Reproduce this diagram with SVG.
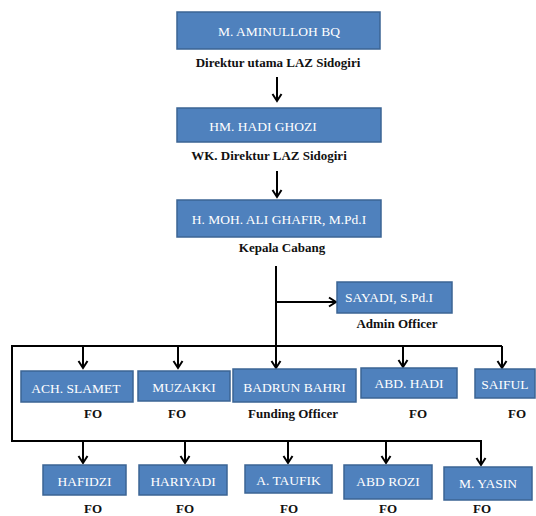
<svg xmlns="http://www.w3.org/2000/svg" width="536" height="516" viewBox="0 0 536 516">
<defs>
<marker id="arr" viewBox="0 0 12 12" refX="10" refY="6" markerWidth="12" markerHeight="12" markerUnits="userSpaceOnUse" orient="auto">
<path d="M3,1.5 L10,6 L3,10.5" fill="none" stroke="#000" stroke-width="2"/>
</marker>
</defs>
<style>
.box{fill:#4F81BD;stroke:#3B6494;stroke-width:1.5}
.bt{font-family:'Liberation Serif','Tinos','Times New Roman','Noto Serif','DejaVu Serif',serif;font-size:13.5px;fill:#fff;text-anchor:middle}
.lb{font-family:'Liberation Serif','Tinos','Times New Roman','Noto Serif','DejaVu Serif',serif;font-size:13px;font-weight:bold;fill:#111;text-anchor:middle}
.ln{fill:none;stroke:#000;stroke-width:2}
.ar{fill:none;stroke:#000;stroke-width:2;marker-end:url(#arr)}
</style>
<rect width="536" height="516" fill="#fff"/>
<g id="connectors">
<path class="ar" d="M277,77 L277,101"/>
<path class="ar" d="M277,171 L277,197"/>
<path class="ar" d="M276,266 L276,368"/>
<path class="ar" d="M276,302 L336,302"/>
<path class="ln" d="M502,346 L12,346 L12,441 L482,441"/>
<path class="ar" d="M83,346 L83,368"/>
<path class="ar" d="M178,346 L178,368"/>
<path class="ar" d="M403,346 L403,367"/>
<path class="ar" d="M502,346 L502,368"/>
<path class="ar" d="M83,441 L83,463"/>
<path class="ar" d="M185,441 L185,463"/>
<path class="ar" d="M288,441 L288,463"/>
<path class="ar" d="M386,441 L386,463"/>
<path class="ar" d="M481,441 L481,465"/>
</g>
<g id="n-aminulloh">
<rect class="box" x="177" y="12" width="203" height="37"/>
<text class="bt" x="279" y="36">M. AMINULLOH BQ</text>
<text class="lb" x="278" y="67">Direktur utama LAZ Sidogiri</text>
</g>
<g id="n-hadi-ghozi">
<rect class="box" x="177" y="108" width="204" height="34"/>
<text class="bt" x="263" y="131">HM. HADI GHOZI</text>
<text class="lb" x="269" y="160">WK. Direktur LAZ Sidogiri</text>
</g>
<g id="n-ali-ghafir">
<rect class="box" x="177" y="200" width="204" height="37"/>
<text class="bt" x="279" y="223.5">H. MOH. ALI GHAFIR, M.Pd.I</text>
<text class="lb" x="282" y="252">Kepala Cabang</text>
</g>
<g id="n-sayadi">
<rect class="box" x="337" y="282" width="115" height="31"/>
<text class="bt" x="389" y="302">SAYADI, S.Pd.I</text>
<text class="lb" x="397" y="328">Admin Officer</text>
</g>
<g id="n-ach-slamet">
<rect class="box" x="21" y="371" width="112" height="31"/>
<text class="bt" x="76" y="392.5">ACH. SLAMET</text>
<text class="lb" x="93" y="418">FO</text>
</g>
<g id="n-muzakki">
<rect class="box" x="138" y="371" width="92" height="30"/>
<text class="bt" x="184" y="392">MUZAKKI</text>
<text class="lb" x="177" y="418">FO</text>
</g>
<g id="n-badrun">
<rect class="box" x="233" y="369" width="123" height="33"/>
<text class="bt" x="294.5" y="391.5">BADRUN BAHRI</text>
<text class="lb" x="293" y="418">Funding Officer</text>
</g>
<g id="n-abd-hadi">
<rect class="box" x="361" y="368" width="96" height="30"/>
<text class="bt" x="409" y="388">ABD. HADI</text>
<text class="lb" x="418" y="418">FO</text>
</g>
<g id="n-saiful">
<rect class="box" x="475" y="369" width="60" height="29"/>
<text class="bt" x="505" y="388.5">SAIFUL</text>
<text class="lb" x="517" y="418">FO</text>
</g>
<g id="n-hafidzi">
<rect class="box" x="43" y="465" width="83" height="30"/>
<text class="bt" x="84.5" y="485.5">HAFIDZI</text>
<text class="lb" x="93" y="513">FO</text>
</g>
<g id="n-hariyadi">
<rect class="box" x="139" y="465" width="88" height="30"/>
<text class="bt" x="183" y="485.5">HARIYADI</text>
<text class="lb" x="185" y="513">FO</text>
</g>
<g id="n-taufik">
<rect class="box" x="245" y="465" width="87" height="28"/>
<text class="bt" x="288.5" y="484.5">A. TAUFIK</text>
<text class="lb" x="289" y="513">FO</text>
</g>
<g id="n-abd-rozi">
<rect class="box" x="344" y="465" width="88" height="34"/>
<text class="bt" x="388" y="486">ABD ROZI</text>
<text class="lb" x="388" y="513">FO</text>
</g>
<g id="n-yasin">
<rect class="box" x="444" y="467" width="88" height="33"/>
<text class="bt" x="488" y="488">M. YASIN</text>
<text class="lb" x="482" y="513">FO</text>
</g>
</svg>
